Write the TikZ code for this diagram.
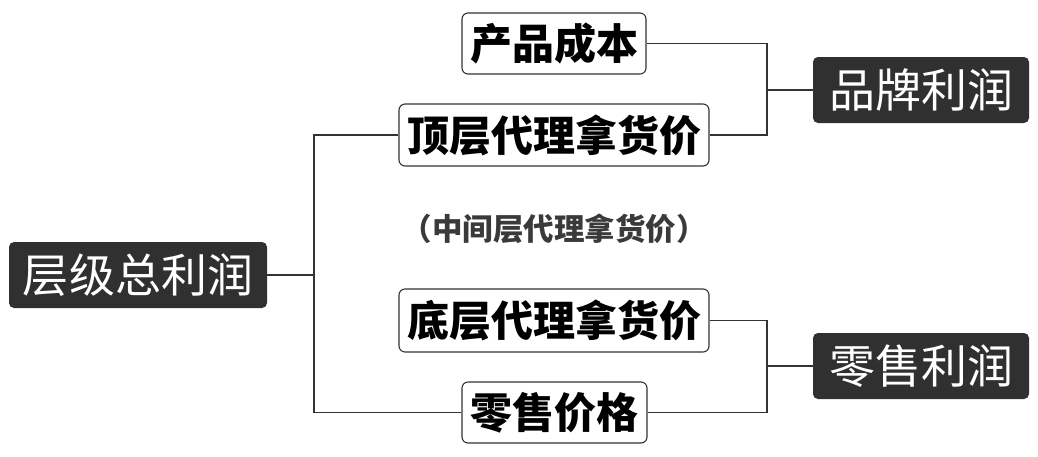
\documentclass[tikz,border=0pt]{standalone}
\usepackage{fontspec}
\newfontfamily\cjk{Noto Sans CJK SC}
\definecolor{ink}{HTML}{333333}
\definecolor{dark}{HTML}{303030}
\definecolor{midgray}{HTML}{3A3A3A}
\begin{document}
\begin{tikzpicture}[x=1pt,y=-1pt,
  leaf/.style={draw=ink,line width=1.1pt,rounded corners=6pt,fill=white,inner sep=0pt,
    font=\cjk\bfseries\fontsize{42}{46}\selectfont,text=black},
  hub/.style={fill=dark,rounded corners=5pt,inner sep=0pt,
    font=\cjk\fontsize{46}{50}\selectfont,text=white},
  link/.style={draw=ink,line width=1.4pt}]
\useasboundingbox (0,0) rectangle (1038,456);
\node[leaf,minimum width=184pt,minimum height=61pt] (cost) at (554,43.5) {产品成本};
\node[leaf,minimum width=310pt,minimum height=62pt] (top) at (554,135) {顶层代理拿货价};
\node[leaf,minimum width=310pt,minimum height=63pt] (bottom) at (554,320.5) {底层代理拿货价};
\node[leaf,minimum width=185pt,minimum height=61pt] (retail) at (554.5,412.5) {零售价格};
\node[hub,minimum width=258pt,minimum height=66pt] (total) at (138,275) {层级总利润};
\node[hub,minimum width=216pt,minimum height=66pt] (brand) at (921,90) {品牌利润};
\node[hub,minimum width=216pt,minimum height=66pt] (rprofit) at (921,366) {零售利润};
\node[inner sep=0pt,text=midgray,font=\cjk\bfseries\fontsize{30.5}{33}\selectfont] (mid) at (554,229) {（中间层代理拿货价）};
\coordinate (lj) at (314,275);
\coordinate (bj) at (767,90);
\coordinate (rj) at (767,366);
\draw[link] (total.east) -- (lj);
\draw[link] (top.west) -| (lj) |- (retail.west);
\draw[link] (cost.east) -| (bj) |- (top.east);
\draw[link] (bj) -- (brand.west);
\draw[link] (bottom.east) -| (rj) |- (retail.east);
\draw[link] (rj) -- (rprofit.west);
\end{tikzpicture}
\end{document}
